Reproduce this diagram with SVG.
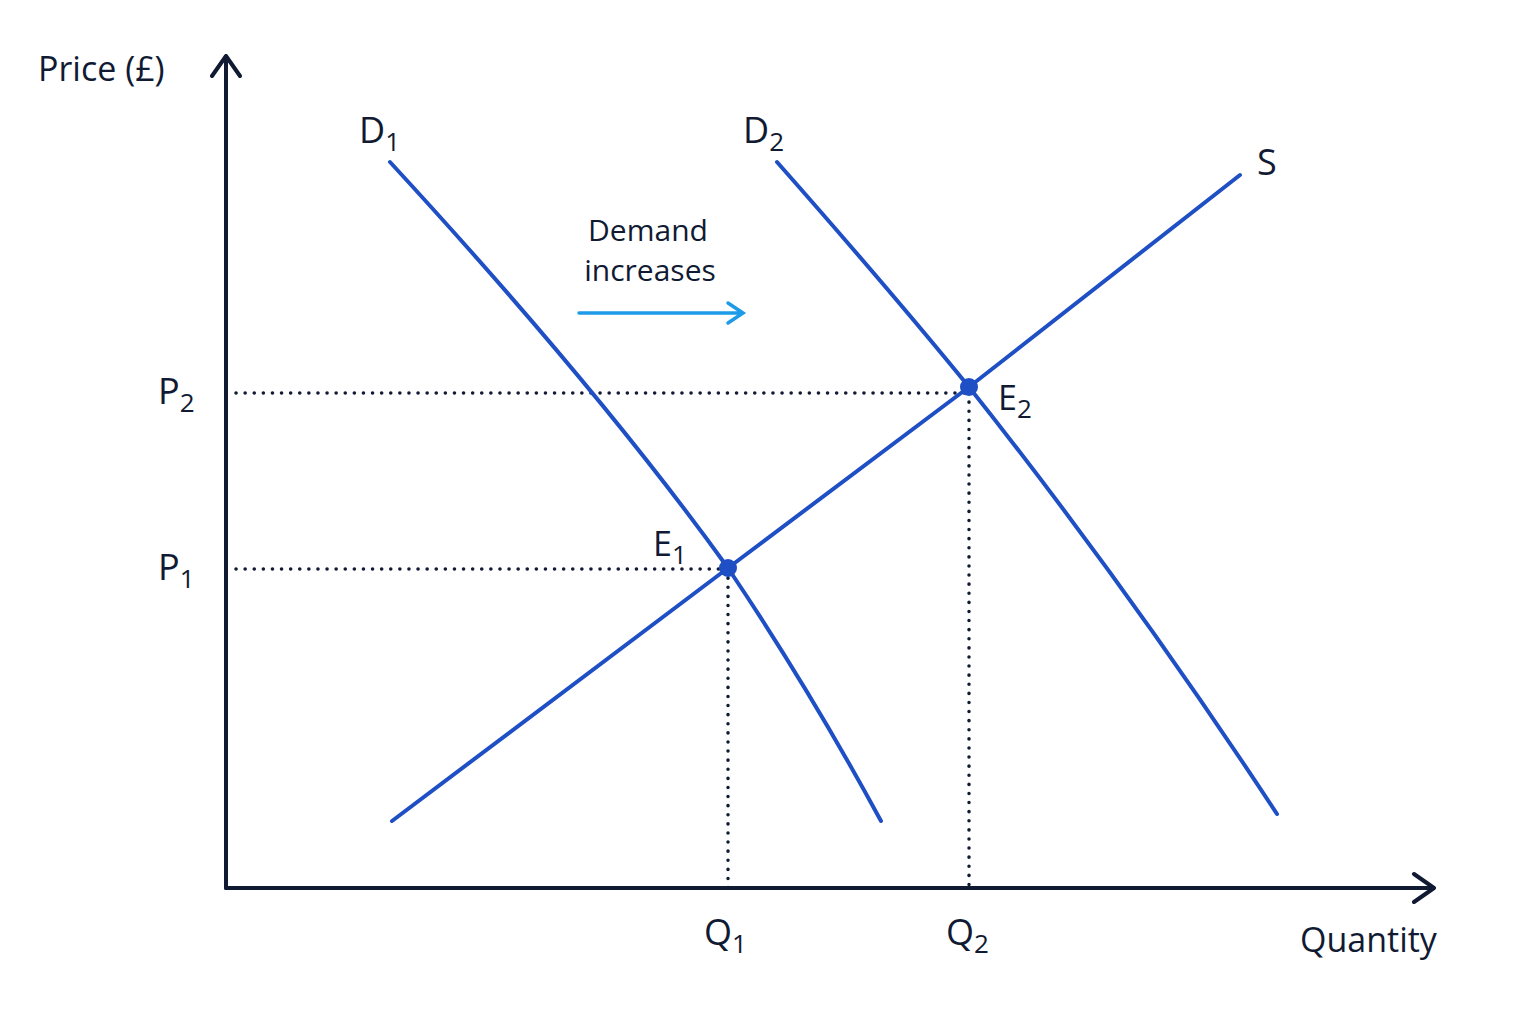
<svg xmlns="http://www.w3.org/2000/svg" width="1536" height="1024" viewBox="0 0 1536 1024">
<style>
.ax{stroke:#111a33;stroke-width:4;fill:none;stroke-linecap:round;stroke-linejoin:round}
.cv{stroke:#1f4fc4;stroke-width:4;fill:none;stroke-linecap:round}
.dt{stroke:#111a33;stroke-width:3.5;fill:none;stroke-dasharray:0.1 9;stroke-linecap:round}
text{font-family:"Open Sans","Liberation Sans",sans-serif;fill:#111a33}
.lb{font-size:36px}
.sb{font-size:26px}
</style>
<rect width="1536" height="1024" fill="#fff"/>
<g id="axes">
<path class="ax" d="M226 888V56M212 76L226 56L240 76"/>
<path class="ax" d="M226 888H1434M1414 874L1434 888L1414 902"/>
</g>
<g id="connectors">
<path class="dt" d="M236 393H969M236 569H728M728 569V888M969 393V888"/>
<path class="cv" d="M390 162Q600 390 728 568Q810 690 881 821"/>
<path class="cv" d="M777 162Q890 290 969 387Q1130 590 1277 814"/>
<path class="cv" d="M392 821L728 568L969 387L1240 175"/>
<path d="M579 313H741M728 303L743 313L728 323" stroke="#1e9be8" stroke-width="3.5" fill="none" stroke-linecap="round"/>
</g>
<g id="points"><circle cx="728" cy="568" r="9" fill="#1f4fc4"/><circle cx="969" cy="387" r="9" fill="#1f4fc4"/></g>
<g id="labels">
<text x="38" y="81" font-size="34">Price (£)</text>
<text x="1300" y="952" font-size="34">Quantity</text>
<text x="359" y="143" class="lb">D<tspan class="sb" dy="8">1</tspan></text>
<text x="743" y="143" class="lb">D<tspan class="sb" dy="8">2</tspan></text>
<text x="1257" y="175" class="lb">S</text>
<text x="158" y="404" class="lb">P<tspan class="sb" dy="8">2</tspan></text>
<text x="158" y="580" class="lb">P<tspan class="sb" dy="8">1</tspan></text>
<text x="704" y="945" class="lb">Q<tspan class="sb" dy="8">1</tspan></text>
<text x="946" y="945" class="lb">Q<tspan class="sb" dy="8">2</tspan></text>
<text x="653" y="556" font-size="34">E<tspan class="sb" dy="8">1</tspan></text>
<text x="998" y="410" font-size="34">E<tspan class="sb" dy="8">2</tspan></text>
<text x="648" y="241" font-size="30" text-anchor="middle">Demand</text>
<text x="650" y="281" font-size="30" text-anchor="middle">increases</text>
</g>
</svg>
